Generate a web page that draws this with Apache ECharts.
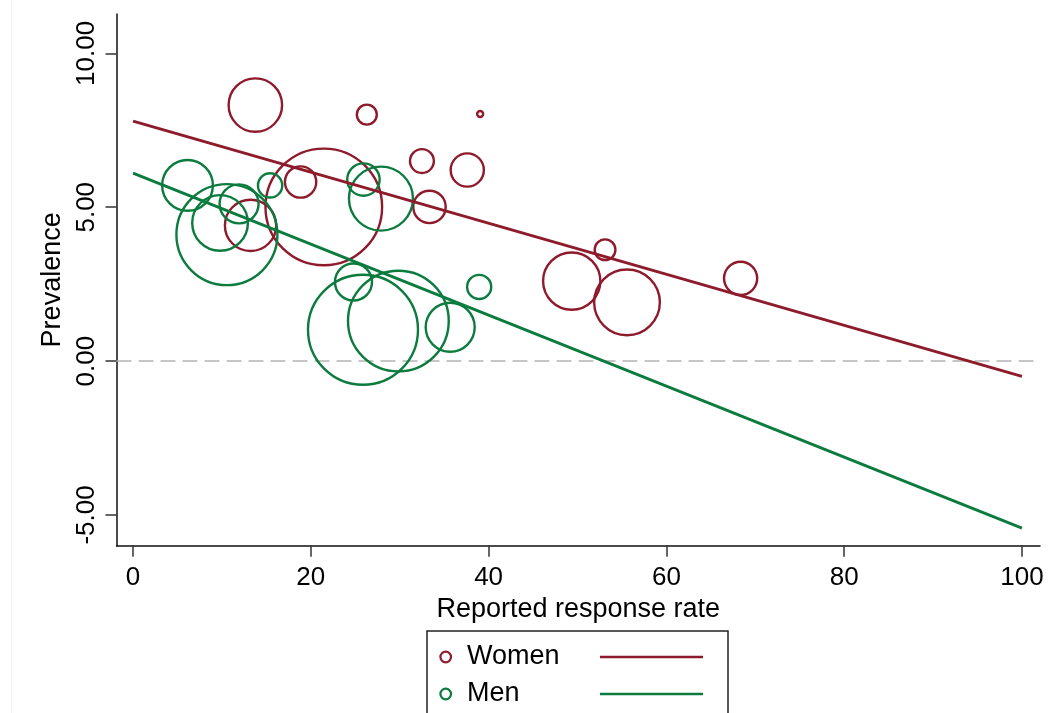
<!DOCTYPE html>
<html>
<head>
<meta charset="utf-8">
<script src="https://cdn.jsdelivr.net/npm/echarts@6/dist/echarts.min.js"></script>
<style>
html,body{margin:0;padding:0;background:#fff;}
#chart{width:1048px;height:713px;}
</style>
</head>
<body>
<div id="chart"></div>
<script>
// ---- data ----
const womenX = [13.76, 26.3, 39.05, 32.5, 37.6, 33.35, 21.46, 18.85, 13.22, 49.35, 55.57, 53.1, 68.35];
const womenY = [8.32, 8.01, 8.03, 6.50, 6.21, 5.01, 5.01, 5.82, 4.41, 2.60, 1.91, 3.62, 2.69];
const womenW = [28.6, 4.0, 0.36, 5.7, 11.0, 10.5, 136, 9.8, 26.3, 32.8, 43.2, 4.3, 11.0];

const menX = [6.13, 10.56, 9.79, 11.93, 15.42, 25.92, 27.89, 24.8, 25.87, 29.85, 35.68, 38.94];
const menY = [5.71, 4.11, 4.49, 5.11, 5.71, 5.90, 5.28, 2.57, 1.02, 1.30, 1.10, 2.41];
const menW = [25.7, 102, 31.0, 15.2, 5.9, 10.5, 41.0, 13.7, 121, 101.5, 24.0, 5.8];

const fitX = [0, 100];
const womenFit = [7.80, -0.50];
const menFit = [6.11, -5.43];

const xTicks = [0, 20, 40, 60, 80, 100];
const yTicks = [-5, 0, 5, 10];

const seriesNames = ['Women', 'Men'];
const xTitle = 'Reported response rate';
const yTitle = 'Prevalence';

// ---- styling ----
const RED = '#8E1B2B';
const GREEN = '#0B7B3E';
const FONT = 'Liberation Sans, Arial, sans-serif';

function pts(xs, ys, ws) { return xs.map((x, i) => [x, ys[i], ws[i]]); }
function line(xs, ys) { return xs.map((x, i) => [x, ys[i]]); }
const sizeFn = v => Math.sqrt(v[2]) * 10;

const chart = echarts.init(document.getElementById('chart'), null, {renderer: 'canvas'});

const legendLeft = 427, legendTop = 631;
const option = {
  backgroundColor: '#ffffff',
  animation: false,
  grid: {left: 116.5, right: 8, top: 14, bottom: 167.3, containLabel: false},
  xAxis: {
    type: 'value', min: -1.86, max: 102.03,
    name: xTitle, nameLocation: 'middle', nameGap: 41,
    nameTextStyle: {fontFamily: FONT, fontSize: 27, color: '#000'},
    axisLine: {show: true, onZero: false, lineStyle: {color: '#111', width: 1.5}},
    axisTick: {show: true, length: 11, customValues: xTicks, lineStyle: {color: '#333', width: 1.5}},
    axisLabel: {customValues: xTicks, margin: 19, fontFamily: FONT, fontSize: 26, color: '#000'},
    splitLine: {show: false}
  },
  yAxis: {
    type: 'value', min: -6.0, max: 11.28,
    name: yTitle, nameLocation: 'middle', nameGap: 41,
    nameTextStyle: {fontFamily: FONT, fontSize: 27, color: '#000'},
    axisLine: {show: true, onZero: false, lineStyle: {color: '#111', width: 1.5}},
    axisTick: {show: true, length: 11, customValues: yTicks, lineStyle: {color: '#333', width: 1.5}},
    axisLabel: {customValues: yTicks, rotate: 90, margin: 17, fontFamily: FONT, fontSize: 26, color: '#000',
      formatter: v => v.toFixed(2)},
    splitLine: {show: false}
  },
  series: [
    {
      name: seriesNames[0], type: 'scatter', symbol: 'circle',
      data: pts(womenX, womenY, womenW), symbolSize: sizeFn,
      itemStyle: {color: 'rgba(0,0,0,0)', borderColor: RED, borderWidth: 2.4, opacity: 1},
      emphasis: {disabled: true}, z: 3,
      markLine: {
        silent: true, symbol: 'none', label: {show: false},
        lineStyle: {color: '#b4b4b4', type: [15, 7], width: 1.5},
        data: [{yAxis: 0}], z: 1
      }
    },
    {
      name: seriesNames[1], type: 'scatter', symbol: 'circle',
      data: pts(menX, menY, menW), symbolSize: sizeFn,
      itemStyle: {color: 'rgba(0,0,0,0)', borderColor: GREEN, borderWidth: 2.4, opacity: 1},
      emphasis: {disabled: true}, z: 3
    },
    {
      name: seriesNames[0] + ' fit', type: 'line', data: line(fitX, womenFit),
      showSymbol: false, lineStyle: {color: RED, width: 2.8}, z: 4, emphasis: {disabled: true}
    },
    {
      name: seriesNames[1] + ' fit', type: 'line', data: line(fitX, menFit),
      showSymbol: false, lineStyle: {color: GREEN, width: 2.8}, z: 4, emphasis: {disabled: true}
    }
  ],
  graphic: [
    {type: 'line', shape: {x1: 11.5, y1: 0, x2: 11.5, y2: 713}, style: {stroke: '#f2f2f2', lineWidth: 1}, silent: true},
    {type: 'rect', shape: {x: legendLeft, y: legendTop, width: 301, height: 100},
      style: {fill: '#fff', stroke: '#222', lineWidth: 1.5}, silent: true},
    {type: 'circle', shape: {cx: 445.7, cy: 657, r: 5.3}, style: {fill: '#fff', stroke: RED, lineWidth: 2.2}},
    {type: 'text', x: 467, y: 657, style: {text: seriesNames[0], fontFamily: FONT, fontSize: 27, fill: '#000', verticalAlign: 'middle'}},
    {type: 'line', shape: {x1: 600, y1: 657, x2: 703, y2: 657}, style: {stroke: RED, lineWidth: 2.6}},
    {type: 'circle', shape: {cx: 445.7, cy: 694, r: 5.3}, style: {fill: '#fff', stroke: GREEN, lineWidth: 2.2}},
    {type: 'text', x: 467, y: 694, style: {text: seriesNames[1], fontFamily: FONT, fontSize: 27, fill: '#000', verticalAlign: 'middle'}},
    {type: 'line', shape: {x1: 600, y1: 694, x2: 703, y2: 694}, style: {stroke: GREEN, lineWidth: 2.6}}
  ]
};
chart.setOption(option);
</script>
</body>
</html>
